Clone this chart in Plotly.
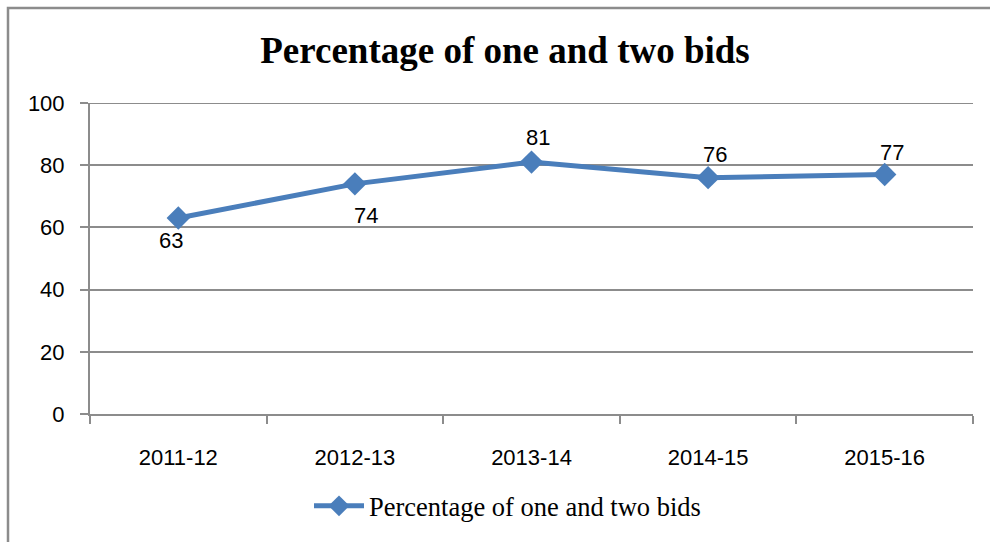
import plotly.graph_objects as go

categories = ["2011-12", "2012-13", "2013-14", "2014-15", "2015-16"]
values = [63, 74, 81, 76, 77]
series_name = "Percentage of one and two bids"
title_text = "Percentage of one and two bids"
y_ticks = [0, 20, 40, 60, 80, 100]

# label offsets (pixels) mimicking the original placement
label_dx = [-7, 11, 6, 7, 7]
label_dy = [-22, -32, 25, 23, 22]

W, H = 990, 542
L, R, T, B = 90, 973, 103, 417

def px(x):
    return (x - L) / (R - L)

def py(y):
    return (B - y) / (B - T)

blue = "#4A7EBB"
grid = "#8C8C8C"
tick_font = dict(family="Liberation Sans, Arial, sans-serif", size=22, color="#000000")

fig = go.Figure()
fig.add_trace(go.Scatter(
    x=categories, y=values, name=series_name, mode="lines+markers",
    line=dict(color=blue, width=5),
    marker=dict(symbol="diamond", size=18, color=blue),
))

for c, v, dx, dy in zip(categories, values, label_dx, label_dy):
    fig.add_annotation(x=c, y=v, text=str(v), showarrow=False,
                       xshift=dx, yshift=dy, font=tick_font)

fig.update_layout(
    width=W, height=H,
    margin=dict(l=L, r=W - R, t=T, b=H - B),
    paper_bgcolor="white", plot_bgcolor="white",
    title=dict(text="<b>" + title_text + "</b>", x=505 / W, xanchor="center",
               y=1 - 50 / H, yanchor="middle",
               font=dict(family="Liberation Serif, Times New Roman, serif", size=37, color="#000000")),
    showlegend=True,
    legend=dict(orientation="h", x=px(309), xanchor="left", y=py(510), yanchor="middle",
                font=dict(family="Liberation Serif, Times New Roman, serif", size=26.5, color="#000000"),
                bgcolor="rgba(0,0,0,0)", itemwidth=50),
    xaxis=dict(type="category", range=[-0.5, 4.5], showgrid=False,
               showline=True, linecolor=grid, linewidth=2,
               ticks="outside", tickson="boundaries", ticklen=8, tickwidth=2, tickcolor=grid,
               tickfont=tick_font, zeroline=False, ticklabelstandoff=23),
    yaxis=dict(range=[0, 100], tickvals=y_ticks, showgrid=True, gridcolor=grid, gridwidth=2,
               showline=True, linecolor=grid, linewidth=2,
               ticks="outside", ticklen=8, tickwidth=2, tickcolor=grid,
               tickfont=tick_font, zeroline=False, ticklabelstandoff=11),
)

# top gridline (at the range edge) drawn explicitly
fig.add_shape(type="line", xref="paper", yref="y", x0=0, x1=1,
              y0=y_ticks[-1], y1=y_ticks[-1], line=dict(color=grid, width=2), layer="below")

# outer chart border (extends past right/bottom edges as in the original crop)
fig.add_shape(type="rect", xref="paper", yref="paper",
              x0=px(8), y0=py(W), x1=px(W + 20), y1=py(7),
              line=dict(color="#8C8C8C", width=2.5), fillcolor="rgba(0,0,0,0)", layer="below")

fig.write_html("out.html", config={"displayModeBar": False},
               post_script="document.body.style.margin='0';document.body.style.overflow='hidden';")
